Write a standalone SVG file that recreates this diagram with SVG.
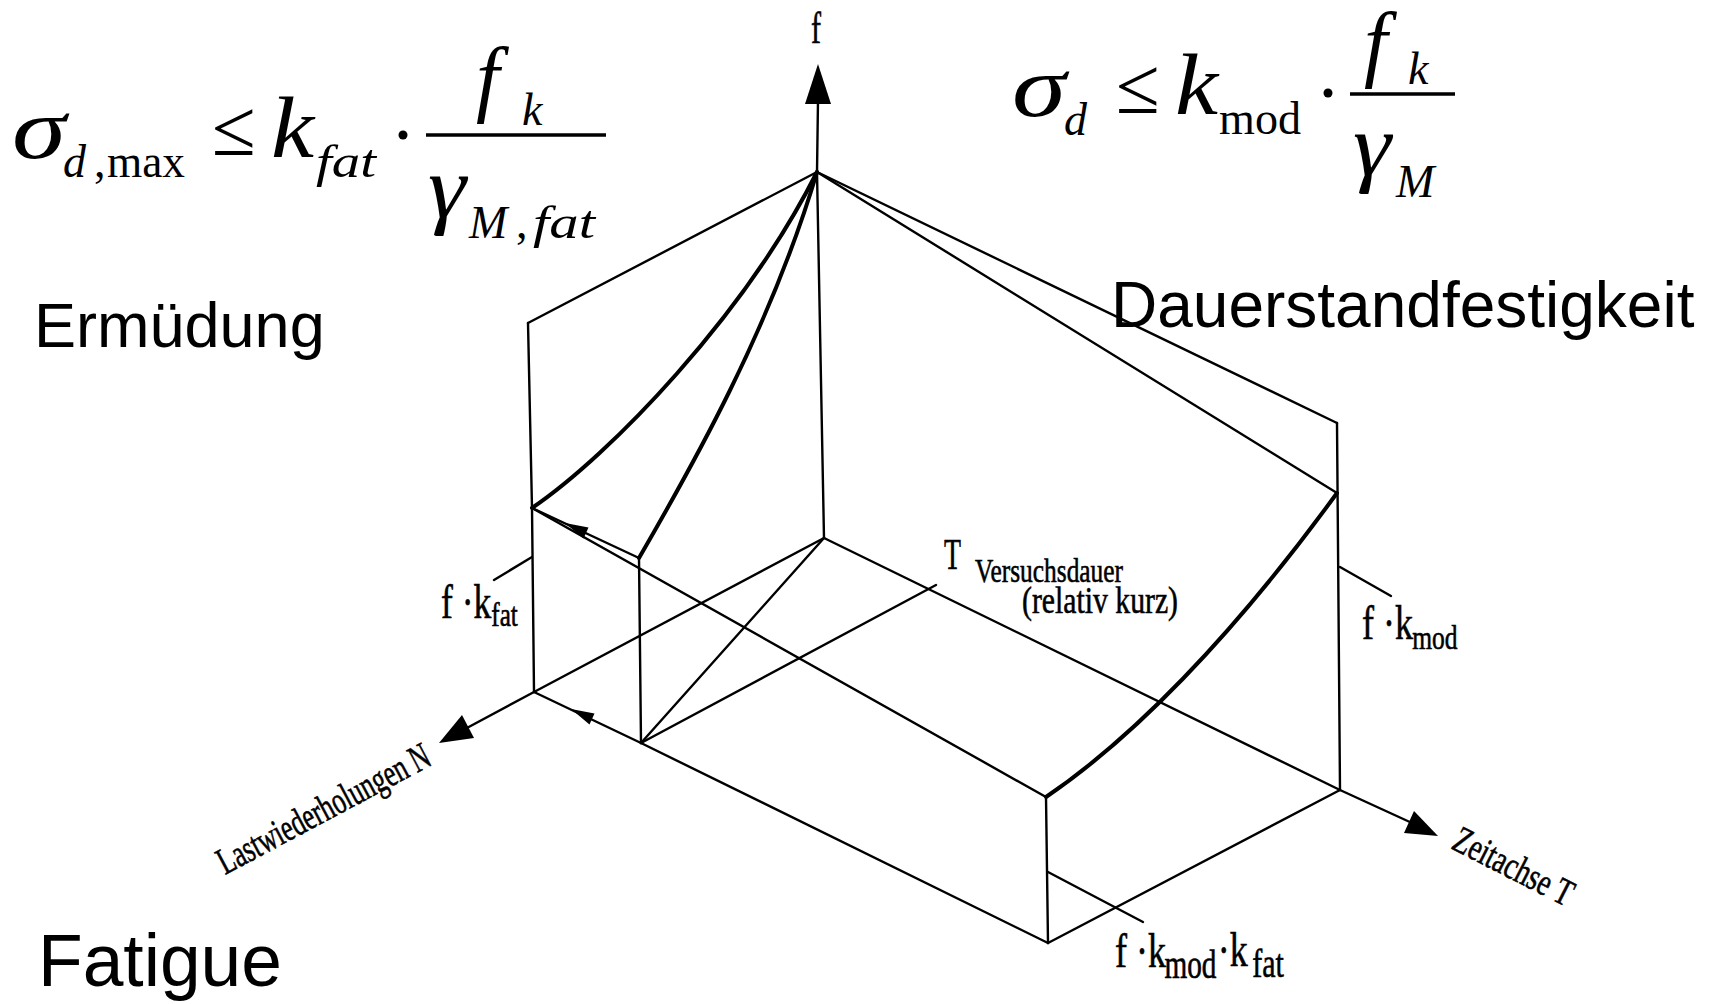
<svg xmlns="http://www.w3.org/2000/svg" width="1711" height="1004" viewBox="0 0 1711 1004">
<style>
.ln{stroke:#000;stroke-width:2.4;fill:none;stroke-linecap:round}
.thk{stroke:#000;stroke-width:4;fill:none;stroke-linecap:round}
.ah{fill:#000;stroke:none}
.lab{font-family:"Liberation Serif",serif;fill:#000;stroke:#000;stroke-width:0.6}
.mth{font-family:"Liberation Serif",serif;fill:#000}
.it{font-style:italic}
.big{font-family:"Liberation Sans",Arial,sans-serif;fill:#000}
</style>
<rect width="1711" height="1004" fill="#fff"/>

<g id="formula-fatigue">
<text class="mth it" x="12" y="158" font-size="86" textLength="54" lengthAdjust="spacingAndGlyphs">σ</text>
<text class="mth it" x="63" y="177" font-size="46">d</text>
<text class="mth" x="94" y="177" font-size="46">,</text>
<text class="mth" x="107" y="177" font-size="46" textLength="78" lengthAdjust="spacingAndGlyphs">max</text>
<text class="mth" x="212" y="155" font-size="80">≤</text>
<text class="mth it" x="271" y="157" font-size="86" textLength="43" lengthAdjust="spacingAndGlyphs">k</text>
<text class="mth it" x="316" y="177" font-size="46" textLength="60" lengthAdjust="spacingAndGlyphs">fat</text>
<circle cx="403" cy="135" r="4.5" fill="#000"/>
<line x1="426" y1="135" x2="606" y2="135" stroke="#000" stroke-width="3.5"/>
<text class="mth it" x="476" y="106" font-size="84">f</text>
<text class="mth it" x="522" y="125" font-size="46">k</text>
<text class="mth it" x="428" y="217" font-size="88" textLength="38" lengthAdjust="spacingAndGlyphs">γ</text>
<text class="mth it" x="469" y="238" font-size="46">M</text>
<text class="mth" x="516" y="238" font-size="46">,</text>
<text class="mth it" x="533" y="238" font-size="46" textLength="62" lengthAdjust="spacingAndGlyphs">fat</text>
</g>

<g id="formula-creep">
<text class="mth it" x="1012" y="116" font-size="86" textLength="54" lengthAdjust="spacingAndGlyphs">σ</text>
<text class="mth it" x="1064" y="135" font-size="46">d</text>
<text class="mth" x="1116" y="113" font-size="80">≤</text>
<text class="mth it" x="1175" y="114" font-size="86" textLength="43" lengthAdjust="spacingAndGlyphs">k</text>
<text class="mth" x="1219" y="134" font-size="46" textLength="82" lengthAdjust="spacingAndGlyphs">mod</text>
<circle cx="1328" cy="93" r="4.5" fill="#000"/>
<line x1="1350" y1="94" x2="1455" y2="94" stroke="#000" stroke-width="3.5"/>
<text class="mth it" x="1364" y="71" font-size="84">f</text>
<text class="mth it" x="1408" y="84" font-size="46">k</text>
<text class="mth it" x="1353" y="175" font-size="88" textLength="38" lengthAdjust="spacingAndGlyphs">γ</text>
<text class="mth it" x="1396" y="197" font-size="46">M</text>
</g>

<g id="titles">
<text class="big" x="34" y="347" font-size="63">Ermüdung</text>
<text class="big" x="1111" y="327" font-size="64">Dauerstandfestigkeit</text>
<text class="big" x="38" y="986" font-size="75" textLength="244" lengthAdjust="spacingAndGlyphs">Fatigue</text>
</g>

<g id="connectors">
<line class="ln" x1="818" y1="100" x2="817" y2="172"/>
<polygon class="ah" points="818,64 805,104 831,104"/>
<line class="ln" x1="817" y1="172" x2="824" y2="538"/>
<line class="ln" x1="817" y1="172" x2="528" y2="323"/>
<line class="ln" x1="528" y1="323" x2="532" y2="508"/>
<line class="ln" x1="817" y1="172" x2="1337" y2="423"/>
<line class="ln" x1="817" y1="172" x2="1337" y2="493"/>
<line class="ln" x1="1337" y1="423" x2="1340" y2="790"/>
<line class="ln" x1="532" y1="508" x2="534" y2="692"/>
<line class="ln" x1="639" y1="558" x2="641" y2="743"/>
<line class="ln" x1="1046" y1="797" x2="1048" y2="943"/>
<line class="ln" x1="532" y1="508" x2="1046" y2="797"/>
<line class="ln" x1="532" y1="508" x2="639" y2="558"/>
<polygon class="ah" points="565,523 583.5,538.4 588.5,527.6"/>
<line class="ln" x1="534" y1="692" x2="641" y2="743"/>
<polygon class="ah" points="571,709 589.5,724.4 594.5,713.6"/>
<line class="ln" x1="641" y1="743" x2="1048" y2="943"/>
<line class="ln" x1="1048" y1="943" x2="1340" y2="790"/>
<line class="ln" x1="824" y1="538" x2="1340" y2="790"/>
<line class="ln" x1="534" y1="692" x2="824" y2="538"/>
<line class="ln" x1="641" y1="743" x2="824" y2="538" stroke-width="1.8"/>
<line class="ln" x1="641" y1="743" x2="936" y2="585"/>
<line class="ln" x1="534" y1="692" x2="465" y2="729"/>
<polygon class="ah" points="439,743 462,715 474,738"/>
<line class="ln" x1="1340" y1="790" x2="1412" y2="823"/>
<polygon class="ah" points="1438,836 1404,833 1414,811"/>
<path class="thk" d="M532 508 C610 455 745 315 817 172"/>
<path class="thk" d="M639 558 C690 470 770 330 817 172"/>
<path class="thk" d="M1046 797 C1130 740 1230 640 1337 493"/>
<line class="ln" x1="532" y1="557" x2="494" y2="580"/>
<line class="ln" x1="1340" y1="567" x2="1391" y2="596"/>
<line class="ln" x1="1048" y1="872" x2="1143" y2="922"/>
</g>

<g id="labels">
<text class="lab" x="811" y="43" font-size="44" textLength="10" lengthAdjust="spacingAndGlyphs">f</text>
<text class="lab" transform="translate(441,618) scale(0.74,1)" font-size="48"><tspan x="0">f ·k</tspan><tspan x="68" dy="8" font-size="34">fat</tspan></text>
<text class="lab" transform="translate(1362,639) scale(0.75,1)" font-size="48"><tspan x="0">f ·k</tspan><tspan x="67" dy="10" font-size="34">mod</tspan></text>
<text class="lab" transform="translate(1115,967) scale(0.75,1)" font-size="48"><tspan x="0">f ·k</tspan><tspan x="66" dy="11" font-size="39">mod</tspan><tspan x="137" dy="-12" font-size="48">·k</tspan><tspan x="183" dy="11" font-size="40">fat</tspan></text>
<text class="lab" x="944" y="569" font-size="44" textLength="17" lengthAdjust="spacingAndGlyphs">T</text>
<text class="lab" x="975" y="582" font-size="34" textLength="148" lengthAdjust="spacingAndGlyphs">Versuchsdauer</text>
<text class="lab" x="1022" y="613" font-size="38" textLength="156" lengthAdjust="spacingAndGlyphs">(relativ kurz)</text>
<text class="lab" transform="translate(225,875) rotate(-28)" font-size="38" textLength="236" lengthAdjust="spacingAndGlyphs">Lastwiederholungen N</text>
<text class="lab" transform="translate(1450,848) rotate(27)" font-size="38" textLength="130" lengthAdjust="spacingAndGlyphs">Zeitachse T</text>
</g>
</svg>
